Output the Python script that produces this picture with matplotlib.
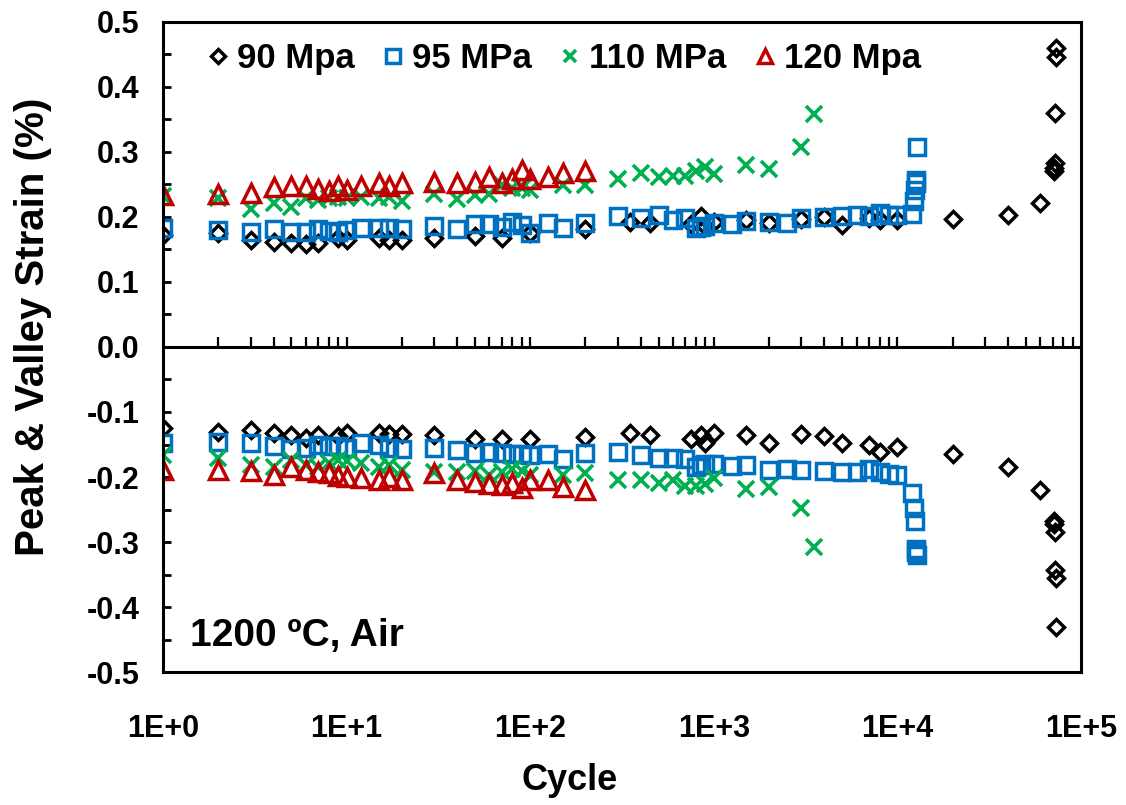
import numpy as np
import matplotlib
matplotlib.use("Agg")
import matplotlib.pyplot as plt
from matplotlib.ticker import MultipleLocator, FixedLocator, NullLocator

plt.rcParams["font.family"] = ["Liberation Sans", "DejaVu Sans"]
plt.rcParams["font.weight"] = "bold"

# ---- 90 MPa ----
cyc_90 = [1, 2, 3, 4, 5, 6, 7, 9, 10, 15, 17, 20, 30, 50, 70, 100, 200, 350, 450,
          750, 850, 900, 1000, 1500, 2000, 3000, 4000, 5000, 7000, 8000, 10000,
          20000, 40000, 60000, 71000, 71500, 72000, 72500, 73000, 73500]
peak_90 = [0.172, 0.176, 0.165, 0.162, 0.160, 0.159, 0.160, 0.167, 0.165, 0.167,
           0.165, 0.165, 0.167, 0.170, 0.168, 0.175, 0.181, 0.193, 0.191,
           0.189, 0.201, 0.186, 0.192, 0.196, 0.191, 0.197, 0.200, 0.188, 0.199,
           0.195, 0.196, 0.197, 0.203, 0.221, 0.270, 0.275, 0.283, 0.360, 0.446, 0.460]
valley_90 = [-0.124, -0.130, -0.128, -0.133, -0.136, -0.140, -0.136, -0.137, -0.133,
             -0.132, -0.134, -0.134, -0.136, -0.141, -0.141, -0.142, -0.138, -0.133,
             -0.135, -0.141, -0.135, -0.148, -0.133, -0.135, -0.147, -0.134, -0.137,
             -0.147, -0.151, -0.161, -0.154, -0.164, -0.184, -0.220, -0.268, -0.272,
             -0.284, -0.343, -0.356, -0.430]

# ---- 95 MPa ----
cyc_95 = [1, 2, 3, 4, 5, 6, 7, 8, 9, 10, 12, 15, 17, 20, 30, 40, 50, 60, 70, 80, 90,
          100, 125, 150, 200, 300, 400, 500, 600, 700, 800, 850, 900, 1000, 1250,
          1500, 2000, 2500, 3000, 4000, 5000, 6000, 7000, 8000, 9000, 10000,
          12000, 12300, 12500, 12600, 12700, 12800]
peak_95 = [0.183, 0.180, 0.177, 0.181, 0.177, 0.177, 0.181, 0.178, 0.177, 0.180,
           0.183, 0.183, 0.183, 0.181, 0.186, 0.182, 0.189, 0.189, 0.185, 0.193,
           0.188, 0.175, 0.190, 0.183, 0.191, 0.202, 0.198, 0.203, 0.195, 0.198,
           0.183, 0.185, 0.186, 0.190, 0.189, 0.194, 0.193, 0.191, 0.198, 0.200,
           0.202, 0.203, 0.202, 0.206, 0.203, 0.203,
           0.205, 0.224, 0.242, 0.252, 0.257, 0.308]
valley_95 = [-0.147, -0.146, -0.147, -0.153, -0.157, -0.156, -0.151, -0.152, -0.153,
             -0.156, -0.148, -0.151, -0.156, -0.157, -0.156, -0.158, -0.163, -0.161,
             -0.163, -0.164, -0.165, -0.166, -0.164, -0.173, -0.163, -0.161, -0.166,
             -0.170, -0.170, -0.173, -0.184, -0.181, -0.180, -0.180, -0.183, -0.182,
             -0.189, -0.187, -0.189, -0.190, -0.192, -0.193, -0.187, -0.192, -0.195,
             -0.197, -0.224, -0.247, -0.267, -0.310, -0.315, -0.320]

# ---- 110 MPa ----
cyc_110 = [1, 2, 3, 4, 5, 6, 7, 8, 9, 10, 12, 15, 17, 20, 30, 40, 50, 60, 70, 80, 90,
           100, 150, 200, 300, 400, 500, 600, 700, 800, 900, 1000, 1500, 2000, 3000, 3500]
peak_110 = [0.232, 0.229, 0.213, 0.221, 0.216, 0.229, 0.226, 0.229, 0.231, 0.229,
            0.230, 0.229, 0.231, 0.224, 0.236, 0.228, 0.234, 0.236, 0.249, 0.244,
            0.245, 0.242, 0.249, 0.249, 0.258, 0.268, 0.262, 0.263, 0.263, 0.270,
            0.277, 0.266, 0.280, 0.274, 0.307, 0.358]
valley_110 = [-0.166, -0.171, -0.182, -0.184, -0.174, -0.182, -0.184, -0.179, -0.174,
              -0.176, -0.179, -0.184, -0.182, -0.189, -0.192, -0.193, -0.190, -0.197,
              -0.192, -0.187, -0.190, -0.197, -0.197, -0.194, -0.204, -0.204, -0.209,
              -0.205, -0.214, -0.214, -0.210, -0.202, -0.219, -0.215, -0.248, -0.307]

# ---- 120 MPa ----
cyc_120 = [1, 2, 3, 4, 5, 6, 7, 8, 9, 10, 12, 15, 17, 20, 30, 40, 50, 60, 70, 80, 90,
           100, 125, 150, 200]
peak_120 = [0.234, 0.235, 0.237, 0.246, 0.247, 0.247, 0.243, 0.240, 0.247, 0.242,
            0.247, 0.252, 0.247, 0.252, 0.254, 0.253, 0.254, 0.262, 0.252, 0.259,
            0.273, 0.259, 0.261, 0.268, 0.271]
valley_120 = [-0.189, -0.189, -0.191, -0.197, -0.184, -0.189, -0.192, -0.194, -0.198,
              -0.200, -0.202, -0.204, -0.200, -0.205, -0.194, -0.205, -0.207, -0.210,
              -0.212, -0.209, -0.217, -0.205, -0.205, -0.215, -0.220]

series_labels = ["90 Mpa", "95 MPa", "110 MPa", "120 Mpa"]
x_ticks = [1e0, 1e1, 1e2, 1e3, 1e4, 1e5]
x_tick_labels = ["1E+0", "1E+1", "1E+2", "1E+3", "1E+4", "1E+5"]

styles = [
    dict(marker="D", ms=8.6, mew=2.5, mec="#000000"),
    dict(marker="s", ms=11.5, mew=2.5, mec="#0070C0"),
    dict(marker="x", ms=11, mew=2.6, mec="#00B050"),
    dict(marker="^", ms=12.5, mew=2.5, mec="#C00000"),
]
data = [(cyc_90, peak_90, valley_90), (cyc_95, peak_95, valley_95),
        (cyc_110, peak_110, valley_110), (cyc_120, peak_120, valley_120)]

fig = plt.figure(figsize=(11.26, 8.05), dpi=100)
ax = fig.add_axes([0.1448, 0.1652, 0.8152, 0.8075])
ax.set_xscale("log")
ax.set_xlim(1, 1e5)
ax.set_ylim(-0.5, 0.5)

for (cyc, pk, vl), st, lab in zip(data, styles, series_labels):
    ax.plot(cyc, pk, ls="none", mfc="none", label=lab, **st)
    ax.plot(cyc, vl, ls="none", mfc="none", **st)

# horizontal axis line through zero with inward tick marks
ax.axhline(0, color="black", lw=2.2, zorder=1)
major_x = np.array(x_ticks)
minor_x = np.array([m * 10.0 ** e for e in range(0, 5) for m in range(2, 10)])
ax.vlines(minor_x, 0, 0.016, colors="black", lw=1.6, zorder=1)
ax.vlines(major_x[1:-1], 0, 0.016, colors="black", lw=1.6, zorder=1)

for sp in ax.spines.values():
    sp.set_linewidth(2.2)

ax.xaxis.set_major_locator(FixedLocator(x_ticks))
ax.xaxis.set_minor_locator(NullLocator())
ax.set_xticklabels(x_tick_labels)
ax.tick_params(axis="x", which="both", length=0, pad=30, labelsize=22)

ax.yaxis.set_major_locator(MultipleLocator(0.1))
ax.yaxis.set_minor_locator(MultipleLocator(0.05))
ax.yaxis.set_major_formatter(lambda v, p: f"{v:.1f}" if abs(v) > 1e-9 else "0.0")
ax.tick_params(axis="y", which="major", direction="in", length=6, width=2,
               pad=17, labelsize=22)
ax.tick_params(axis="y", which="minor", direction="in", length=6, width=2)

leg = ax.legend(loc="center", bbox_to_anchor=(0.436, 0.944), ncol=4, frameon=False,
                fontsize=25, handlelength=0.7, handletextpad=0.2,
                columnspacing=0.75, borderaxespad=0, markerscale=0.85)

ax.text(0.029, 0.028, "1200 ºC, Air", transform=ax.transAxes,
        fontsize=28, ha="left", va="bottom")

fig.text(33 / 1126, 1 - 327 / 805, "Peak & Valley Strain (%)", rotation=90,
         ha="center", va="center", fontsize=29)
fig.text(570 / 1126, 1 - 780 / 805, "Cycle", ha="center", va="center", fontsize=26)

fig.savefig("out.png", dpi=100)
